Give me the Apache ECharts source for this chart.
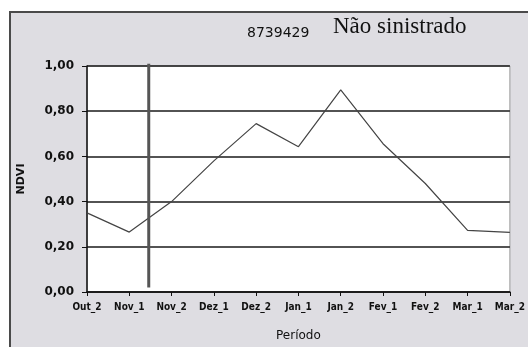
<!DOCTYPE html>
<html>
<head>
<meta charset="utf-8">
<script src="https://cdn.jsdelivr.net/npm/echarts@6/dist/echarts.min.js"></script>
<style>
  html, body { margin: 0; padding: 0; background: #fff; }
  #frame { position: absolute; left: 9px; top: 11px; width: 530px; height: 345px;
           background: #dedde2; border-left: 2px solid #4a4a4a; border-top: 2px solid #4a4a4a; }
  #chart { position: absolute; left: 0; top: 0; width: 528px; height: 347px; }
</style>
</head>
<body>
<div id="frame"></div>
<div id="chart"></div>
<script>
// períodos (eixo x)
const periodos = ['Out_2', 'Nov_1', 'Nov_2', 'Dez_1', 'Dez_2', 'Jan_1', 'Jan_2', 'Fev_1', 'Fev_2', 'Mar_1', 'Mar_2'];
// valores de NDVI
const ndvi = [0.35, 0.265, 0.40, 0.58, 0.745, 0.643, 0.894, 0.656, 0.48, 0.273, 0.264];
// posição da linha vertical (em índices de período) e seu alcance em y
const marcaX = 1.46;
const marcaY = [0.02, 1.01];

const chart = echarts.init(document.getElementById('chart'), null, { renderer: 'canvas' });

const labelFont = { fontFamily: 'DejaVu Sans', fontWeight: 'bold', color: '#111' };

chart.setOption({
  backgroundColor: 'transparent',
  animation: false,
  title: [
    { text: '8739429', left: 247, top: 26, padding: 0,
      textStyle: { fontFamily: 'DejaVu Sans', fontSize: 14, fontWeight: 'normal', color: '#111' } },
    { text: 'Não sinistrado', left: 333, top: 15, padding: 0,
      textStyle: { fontFamily: 'Liberation Serif', fontSize: 23, fontWeight: 'normal', color: '#111' } }
  ],
  grid: { left: 87, top: 66, width: 425, height: 227, show: true,
          backgroundColor: '#fff', borderColor: '#999', borderWidth: 1 },
  xAxis: [
    {
      type: 'category', data: periodos, boundaryGap: false,
      name: 'Período', nameLocation: 'middle', nameGap: 38,
      nameTextStyle: { fontFamily: 'DejaVu Sans', fontSize: 12, color: '#111' },
      axisLine: { lineStyle: { color: '#111', width: 1.5 } },
      axisTick: { length: 4, lineStyle: { color: '#111' } },
      axisLabel: Object.assign({ margin: 10, interval: 0 }, labelFont, { fontSize: 10, fontFamily: 'DejaVu Sans Condensed' }),
      splitLine: { show: false }
    },
    { type: 'value', min: 0, max: 10, show: false }
  ],
  yAxis: {
    type: 'value', min: 0, max: 1, interval: 0.2,
    name: 'NDVI', nameLocation: 'middle', nameGap: 60, nameRotate: 90,
    nameTextStyle: Object.assign({}, labelFont, { fontSize: 11 }),
    axisLine: { show: true, lineStyle: { color: '#111', width: 1.5 } },
    axisTick: { show: true, length: 5, lineStyle: { color: '#111' } },
    axisLabel: Object.assign({ margin: 13, formatter: v => v.toFixed(2).replace('.', ',') }, labelFont, { fontSize: 12 }),
    splitLine: { show: true, lineStyle: { color: '#1a1a1a', width: 1.5 } }
  },
  series: [
    {
      type: 'line', data: ndvi, symbol: 'none',
      lineStyle: { color: '#444', width: 1.2 }
    },
    {
      type: 'line', xAxisIndex: 1, clip: false, symbol: 'none',
      data: [[marcaX, marcaY[0]], [marcaX, marcaY[1]]],
      lineStyle: { color: '#555', width: 3 }
    }
  ]
});
</script>
</body>
</html>
